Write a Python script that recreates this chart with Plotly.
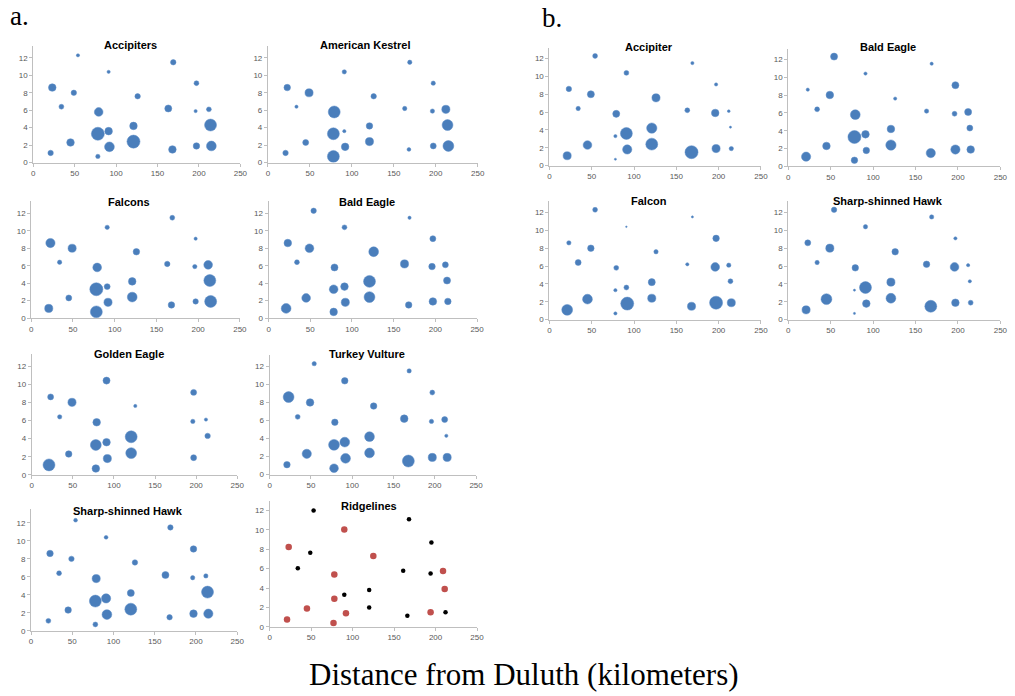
import plotly.graph_objects as go

W, H = 1015, 696

# ---- data: survey sites (distance from Duluth km, y) ----
site_x = [21, 23, 34, 45, 49, 54, 78, 78, 79, 91, 91, 92, 121, 121, 126, 163, 168, 169, 196, 197, 197, 212, 214, 215]
site_y = [1.1, 8.6, 6.4, 2.3, 8.0, 12.3, 0.7, 3.3, 5.8, 3.6, 10.4, 1.8, 2.4, 4.2, 7.6, 6.2, 1.5, 11.5, 5.9, 1.9, 9.1, 6.1, 4.3, 1.9]

# relative bubble values per site (0 = no bubble)
accipiters_a   = [5, 7, 4.5, 7, 5, 3, 4, 12, 8, 7, 3, 9, 12, 7, 5, 6.5, 7, 5, 3, 6, 4.5, 4.5, 11, 9]
kestrel_a      = [5, 6, 3, 5.5, 7.5, 0, 11, 11, 11, 3, 4, 7, 7.5, 6, 5, 4, 3.5, 4, 4, 5.5, 4, 7.5, 10, 10]
falcons_a      = [7.5, 8.5, 4, 5.5, 7.5, 0, 11, 12, 8, 5.5, 4, 7.5, 9, 7, 6, 5, 6, 4.5, 4, 5, 3, 8, 11, 11]
bald_eagle_a   = [9, 7, 4.5, 8, 8, 5, 7, 8, 6.5, 7, 4.5, 7.5, 10, 11, 9, 7.5, 6, 3, 6, 7, 5.5, 5.5, 6.5, 6]
golden_eagle_a = [11, 5.5, 4, 6, 7.5, 0, 7, 10, 7, 7, 6.5, 7.5, 10, 11, 3, 0, 0, 0, 4, 5.5, 5.5, 3, 5, 0]
turkey_vult_a  = [6, 10, 4.5, 8.5, 7, 4, 8, 10, 6, 9, 6, 9, 9, 9, 6, 7, 11, 4, 4, 7.5, 4.5, 5.5, 3, 7.5]
sharpshin_a    = [4.5, 6, 4.5, 6, 5, 3.5, 4.5, 11, 7.5, 8.5, 3.5, 9, 11, 6.5, 5, 6.5, 5, 5, 4, 7, 6, 4, 11, 8.5]
accipiter_b    = [7.5, 5, 4, 8, 6.5, 4.5, 2, 3, 6.5, 11, 4.5, 8.5, 11, 9.5, 7.5, 4.5, 12, 3, 7, 7.5, 3, 2.5, 2, 4]
bald_eagle_b   = [8.5, 3, 4.5, 7, 7, 6.5, 6, 12, 9, 7, 3, 6, 9.5, 7, 3, 4, 8.5, 3, 4.5, 8.5, 6.5, 6.5, 5.5, 7]
falcon_b       = [10, 4, 5.5, 9, 6, 4.5, 3, 3, 4.5, 4.5, 1.5, 12, 7.5, 6.5, 4, 3, 7.5, 2, 8, 12, 6, 4, 4.5, 7.5]
sharpshin_b    = [7.5, 5.5, 4, 10, 7.5, 5, 2, 2, 6, 11, 4, 7, 9, 7.5, 6, 6, 11, 4, 8, 7, 3, 3, 3, 4.5]

# ridgelines panel (read separately)
ridge_x = [21, 23, 45, 77, 78, 78, 90, 92, 125, 194, 209, 211,
           34, 49, 53, 90, 120, 120, 161, 166, 168, 194, 195, 212]
ridge_y = [0.75, 8.25, 1.9, 0.4, 2.9, 5.4, 10.05, 1.4, 7.3, 1.5, 5.75, 3.9,
           6.05, 7.65, 12.0, 3.3, 2.0, 3.8, 5.8, 1.15, 11.1, 5.5, 8.7, 1.5]
ridge_kind = ["red"] * 12 + ["black"] * 12

x_ticks = [0, 50, 100, 150, 200, 250]
y_ticks = [0, 2, 4, 6, 8, 10, 12]

# ---- panel layout (pixel geometry) ----
# title, values, x0px(at 0), x1px(at 250), y0px(at 0), px per unit, ymax, title cx, title cy
panels = [
    ("Accipiters", accipiters_a, 31.5, 240.5, 163.7, 8.78, 13.4, 130, 45.5),
    ("American Kestrel", kestrel_a, 268.3, 480.0, 163.7, 8.78, 13.4, 367, 45.5),
    ("Falcons", falcons_a, 29.5, 240.0, 320.3, 8.78, 13.4, 128, 203),
    ("Bald Eagle", bald_eagle_a, 269.0, 479.3, 320.3, 8.78, 13.4, 368, 203),
    ("Golden Eagle", golden_eagle_a, 30.0, 237.3, 478.3, 9.13, 13.3, 128, 357),
    ("Turkey Vulture", turkey_vult_a, 270.0, 478.3, 478.0, 9.08, 13.3, 368, 357),
    ("Sharp-shinned Hawk", sharpshin_a, 29.3, 237.3, 635.3, 9.05, 13.5, 127, 515),
    ("Ridgelines", None, 270.0, 479.3, 631.3, 9.75, 13.0, 370, 510),
    ("Accipiter", accipiter_b, 552.3, 765.7, 166.7, 8.97, 13.2, 653, 47),
    ("Bald Eagle", bald_eagle_b, 793.3, 1007.3, 167.7, 9.0, 13.2, 894, 47),
    ("Falcon", falcon_b, 552.3, 765.7, 322.0, 9.0, 13.25, 653, 202),
    ("Sharp-shinned Hawk", sharpshin_b, 793.3, 1007.3, 322.0, 9.0, 13.25, 894, 202),
]

BLUE = "#4a7ebb"
fig = go.Figure()
layout = {}
annotations = []
tickfont = dict(family="Liberation Sans, Arial", size=8, color="#595959")

for i, (title, vals, x0, x1, y0, unit, ymax, tcx, tcy) in enumerate(panels):
    n = i + 1
    xa = "x" if n == 1 else f"x{n}"
    ya = "y" if n == 1 else f"y{n}"
    if vals is not None:
        xs = [x for x, v in zip(site_x, vals) if v > 0]
        ys = [y for y, v in zip(site_y, vals) if v > 0]
        ss = [v for v in vals if v > 0]
        fig.add_trace(go.Scatter(
            x=xs, y=ys, mode="markers", xaxis=xa, yaxis=ya, showlegend=False,
            marker=dict(size=ss, sizemode="diameter", sizeref=0.92, color=BLUE,
                        opacity=1, line=dict(color="#5d8cc6", width=0.5)),
        ))
    else:
        for kind, col, sz in (("red", "#c0504d", 6.5), ("black", "#000000", 4.5)):
            xs = [x for x, k in zip(ridge_x, ridge_kind) if k == kind]
            ys = [y for y, k in zip(ridge_y, ridge_kind) if k == kind]
            fig.add_trace(go.Scatter(
                x=xs, y=ys, mode="markers", xaxis=xa, yaxis=ya, showlegend=False,
                marker=dict(size=sz, color=col, opacity=1, line=dict(width=0)),
            ))
    top = y0 - ymax * unit
    layout[f"xaxis{'' if n == 1 else n}"] = dict(
        domain=[x0 / W, x1 / W], range=[0, 250], anchor=ya,
        tickvals=x_ticks, ticks="outside", ticklen=3, tickcolor="#bfbfbf",
        showline=True, linecolor="#bfbfbf", linewidth=1, showgrid=False,
        zeroline=False, tickfont=tickfont, fixedrange=True,
    )
    layout[f"yaxis{'' if n == 1 else n}"] = dict(
        domain=[1 - y0 / H, 1 - top / H], range=[0, ymax], anchor=xa,
        tickvals=y_ticks, ticks="outside", ticklen=3, tickcolor="#bfbfbf",
        showline=True, linecolor="#bfbfbf", linewidth=1, showgrid=False,
        zeroline=False, tickfont=tickfont, fixedrange=True,
    )
    annotations.append(dict(
        text=f"<b>{title}</b>", x=tcx / W, y=1 - tcy / H, xref="paper", yref="paper",
        xanchor="center", yanchor="middle", showarrow=False,
        font=dict(family="Liberation Sans, Arial", size=11, color="#000000"),
    ))

annotations.append(dict(text="a.", x=6 / W, y=1 - 16 / H, xref="paper", yref="paper",
                        xanchor="left", yanchor="middle", showarrow=False,
                        font=dict(family="Liberation Serif, Times New Roman", size=27, color="#000")))
annotations.append(dict(text="b.", x=543 / W, y=1 - 18 / H, xref="paper", yref="paper",
                        xanchor="left", yanchor="middle", showarrow=False,
                        font=dict(family="Liberation Serif, Times New Roman", size=27, color="#000")))
annotations.append(dict(text="Distance from Duluth (kilometers)", x=527 / W, y=1 - 679 / H,
                        xref="paper", yref="paper", xanchor="center", yanchor="middle",
                        showarrow=False,
                        font=dict(family="Liberation Serif, Times New Roman", size=31, color="#000")))

fig.update_layout(
    width=W, height=H, margin=dict(l=0, r=0, t=0, b=0),
    paper_bgcolor="white", plot_bgcolor="white",
    annotations=annotations, **layout,
)

fig.write_html("out.html", config={"displayModeBar": False})
